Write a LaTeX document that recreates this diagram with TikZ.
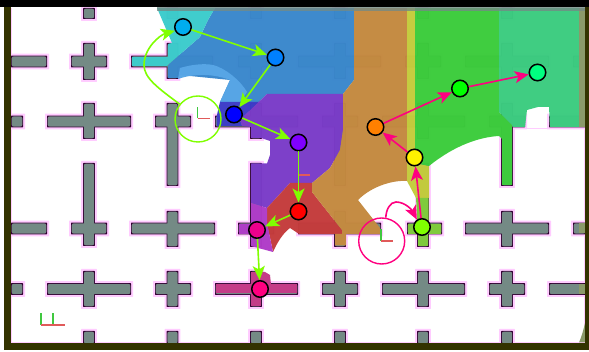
\documentclass[tikz,border=0pt]{standalone}
\usetikzlibrary{arrows.meta}
\definecolor{frameol}{HTML}{333300}
\definecolor{halo}{HTML}{FFCCFF}
\definecolor{edgec}{HTML}{330033}
\definecolor{barc}{HTML}{748A85}
\definecolor{limea}{HTML}{80FF00}
\definecolor{pinka}{HTML}{FF0080}
\definecolor{axgreen}{HTML}{40C840}
\definecolor{axred}{HTML}{E05A5A}
\definecolor{cTeal}{HTML}{3CCCCC}
\definecolor{cBlue}{HTML}{3A88CC}
\definecolor{cLight}{HTML}{58A6E6}
\definecolor{cDark}{HTML}{3C3CC8}
\definecolor{cPurple}{HTML}{7A3CC8}
\definecolor{cBrown}{HTML}{C48A40}
\definecolor{cRed}{HTML}{C43C3C}
\definecolor{cMag}{HTML}{B03CC8}
\definecolor{cYel}{HTML}{C4CC3C}
\definecolor{cGreen}{HTML}{3CCC3C}
\definecolor{cSpring}{HTML}{3CCC80}
\definecolor{cLime}{HTML}{80CC3C}
\definecolor{cPink}{HTML}{C43C88}
\definecolor{cStrip}{HTML}{8A9A6A}
\tikzset{
  region/.style={fill opacity=.975,draw=none},
  graphnode/.style={circle,draw=black,line width=1.5pt,minimum size=16.5pt,inner sep=0pt},
  loopcircle/.style={circle,minimum size=46pt,inner sep=0pt,line width=1.4pt},
  limearrow/.style={draw=limea,line width=1.6pt,-{Stealth[length=14pt,width=12pt,inset=3.5pt]}},
  pinkarrow/.style={draw=pinka,line width=1.6pt,-{Stealth[length=14pt,width=12pt,inset=3.5pt]}},
  axisg/.style={draw=axgreen,line width=1.1pt},
  axisr/.style={draw=axred,line width=1.1pt}
}
\newcommand{\hbarlist}{11/47/61.5,71/107/61.5,131/213/61.5,238/274/61.5,298/381/61.5,405/441/61.5,465/549/61.5,573/586/61.5,
 11/23/121.5,47/131/121.5,155/191/121.5,215/298/121.5,322/358/121.5,382/465/121.5,489/525/121.5,549/586/121.5,
 11/47/228.5,71/107/228.5,131/215/228.5,238/274/228.5,298/381/228.5,407/442/228.5,465/549/228.5,573/586/228.5,
 11/23/289,47/131/289,155/191/289,215/298/289,322/358/289,382/465/289,489/525/289,549/586/289}
\newcommand{\vbarlist}{89/8/19,89/43/80,89/103/139,89/163/246,89/271/307,89/331/344,
 172.5/8/19,172.5/43/79,172.5/103/186,172.5/211/247,172.5/271/307,172.5/331/344,
 256/8/19,256/43/79,256/103/139,256/163/247,256/271/307,256/331/344,
 340/8/19,340/43/79,340/103/186,340/211/247,340/271/307,340/331/344,
 423/8/19,423/43/79,423/103/139,423/163/247,423/271/307,423/331/344,
 507/8/19,507/43/79,507/103/186,507/211/247,507/271/307,507/331/344}
\newcommand{\barpass}[3]{%
  \foreach \xa/\xb/\yc in \hbarlist {\fill[#1,rounded corners=#3] (\xa-#2,\yc-5.8-#2) rectangle (\xb+#2,\yc+5.8+#2);}
  \foreach \xc/\ya/\yb in \vbarlist {\fill[#1,rounded corners=#3] (\xc-5.8-#2,\ya-#2) rectangle (\xc+5.8+#2,\yb+#2);}
}
\begin{document}
\begin{tikzpicture}[x=1pt,y=-1pt]
\useasboundingbox (0,0) rectangle (589,352);
\fill[white] (0,0) rectangle (589,352);
% inner pink edge
\draw[halo,line width=1.5pt] (11.7,8) -- (11.7,342.3) -- (584.3,342.3) -- (584.3,8);
% grey crosses
\barpass{halo}{2}{0.5pt}
\barpass{edgec}{0}{0.5pt}
\barpass{barc}{-0.6}{2.2pt}
% right-hand tint on bars
\fill[cStrip] (579,223.5) rectangle (585,233.5);
\fill[cStrip] (579,284) rectangle (585,294);
\fill[cStrip] (585,323) .. controls (583,332) and (581,338) .. (579,342.5) -- (585,342.5) -- cycle;
% coloured regions
\fill[region,cBlue] (208,20) -- (215,8) -- (354,8) -- (354,80) -- (343,94) -- (267,94) -- (259,102) -- (220,102) -- (230,80) -- (180,75) -- (178,78) -- (168,78) -- (168,66) -- (170,63) -- (200,37) -- cycle;
\fill[region,cLight] (180,68) .. controls (190,65) and (203,63) .. (213,65) .. controls (225,68) and (240,80) .. (247,92) -- (240,102) -- (220,102) -- (230,80) .. controls (215,74) and (195,73) .. (178,79) -- cycle;
\fill[region,cTeal] (157,8) -- (215,8) -- (208,20) -- (200,37) -- (170,63) -- (167,66) -- (132,66) -- (132,57) -- (168,57) -- (168,44) -- (172,43) -- cycle;
\fill[region,cDark] (220,102) -- (259,102) -- (240,120) -- (242,126) -- (216.5,126) -- (216.5,117) -- cycle;
\fill[region,cPurple] (267,94) -- (343,94) -- (343,130) -- (340,150) -- (330,168) -- (312,183) -- (290,183) -- (267,208) -- (251,203) -- (251,163.5) -- (267,163.5) -- (270,155) -- (270,141) -- (261,138) -- (251,138) -- (251,127) -- (242,126) -- (240,120) -- cycle;
\fill[region,cRed] (290,183) -- (312,183) -- (312,192) -- (342,230) -- (342,234) -- (299,234) -- (290,228) .. controls (283,233) and (277,243) .. (273,252) -- (267,223) -- (267,208) -- cycle;
\fill[region,cMag] (251,203) -- (267,208) -- (267,223) -- (273,252) -- (251,246) -- (251,234) -- (239,234) -- (239,224) -- (251,224) -- cycle;
\fill[region,cBrown] (354,8) -- (407,8) -- (407,181) .. controls (395,180) and (373,185) .. (358,200) -- (380,228) -- (380,234) -- (346,234) -- (346,245.5) -- (335,245.5) -- (335,234) -- (342,234) -- (342,230) -- (312,192) -- (312,183) -- (330,168) -- (340,150) -- (343,130) -- (343,94) -- (354,80) -- cycle;
\fill[region,cYel] (407,8) -- (415,8) -- (415,163) -- (429,166) -- (429,198) -- (416,198) -- (407,181) -- cycle;
\fill[region,cLime] (416,198) -- (428.5,198) -- (428.5,224) -- (441,224) -- (441,234) -- (428,234) -- (428,246) -- (418,246) -- (418,234) -- (408,234) -- (408,224) -- (417.5,224) -- cycle;
\fill[region,cGreen] (415,8) -- (499,8) -- (499,112) -- (512,125) -- (512,185) -- (502,185) -- (502,139) -- (499,136) .. controls (480,137) and (455,145) .. (429,166) -- (415,163) -- cycle;
\fill[region,cSpring] (499,8) -- (579,8) -- (579,127) -- (550,127) -- (549,107) -- (538,107) -- (527,110) -- (525,127) -- (513,127) -- (512,125) -- (499,112) -- cycle;
\fill[cPink] (216,284.5) rectangle (297,293.5);
\fill[cPink] (251,272) rectangle (261,306);
\fill[cPink] (259,272) -- (265,272) -- (270,275) -- (271,284.5) -- (259,284.5) -- cycle;
\fill[cStrip] (579,8) rectangle (585,127);
\draw[halo,line width=1pt] (513,128.5) -- (584,128.5);
% frame
\fill[frameol] (4,7) rectangle (11,350);
\fill[frameol] (4,343) rectangle (589,350);
\fill[frameol] (585,7) rectangle (589,350);
\fill[black] (0,0) rectangle (589,7.5);
\fill[barc,fill opacity=.8] (157,7.5) rectangle (585,11);
% axes
\draw[axisg] (197.5,118.5) -- (197.5,107);
\draw[axisr] (197.5,118.5) -- (210,118.5);
\draw[axisg] (381,241) -- (381,229);
\draw[axisr] (381,241) -- (393,241);
\draw[axisr] (298,175) -- (310,175);
\draw[axisg] (41,325) -- (41,313);
\draw[axisg] (53,325) -- (53,313);
\draw[axisr] (41,325) -- (65,325);
% graph nodes
\node[graphnode,fill=cyan] (ncyan) at (183,27) {};
\node[graphnode,fill={rgb,255:red,0;green,128;blue,255}] (nblue) at (275.5,57.5) {};
\node[graphnode,fill=blue] (ndark) at (234,114.5) {};
\node[graphnode,fill={rgb,255:red,128;green,0;blue,255}] (npurple) at (298.5,142.5) {};
\node[graphnode,fill=red] (nred) at (298.5,211.5) {};
\node[graphnode,fill=magenta] (nmag) at (257,230) {};
\node[graphnode,fill=pinka] (npink) at (260,289) {};
\node[graphnode,fill=orange] (norange) at (375.5,127) {};
\node[graphnode,fill=yellow] (nyellow) at (414.5,157.5) {};
\node[graphnode,fill=limea] (nlime) at (422,227) {};
\node[graphnode,fill=green] (ngreen) at (460,88.5) {};
\node[graphnode,fill={rgb,255:red,0;green,255;blue,128}] (nspring) at (537.5,72.5) {};
\node[loopcircle,draw=limea] (cloopa) at (198,119) {};
\node[loopcircle,draw=pinka] (cloopb) at (381.7,241) {};
% connectors
\draw[limearrow] (ncyan) -- (nblue);
\draw[limearrow] (nblue) -- (ndark);
\draw[limearrow] (ndark) -- (npurple);
\draw[limearrow] (npurple) -- (nred);
\draw[limearrow] (nred) -- (nmag);
\draw[limearrow] (nmag) -- (npink);
\draw[limearrow] (cloopa.141) .. controls (158,88) and (144,78) .. (144,65) .. controls (144,48) and (160,35) .. (ncyan.205);
\draw[pinkarrow] (nlime) -- (nyellow);
\draw[pinkarrow] (nyellow) -- (norange);
\draw[pinkarrow] (norange) -- (ngreen);
\draw[pinkarrow] (ngreen) -- (nspring);
\draw[pinkarrow] (cloopb.80) .. controls (386,210) and (390,202) .. (396,202) .. controls (405,202) and (412,210) .. (nlime.125);
\end{tikzpicture}
\end{document}
